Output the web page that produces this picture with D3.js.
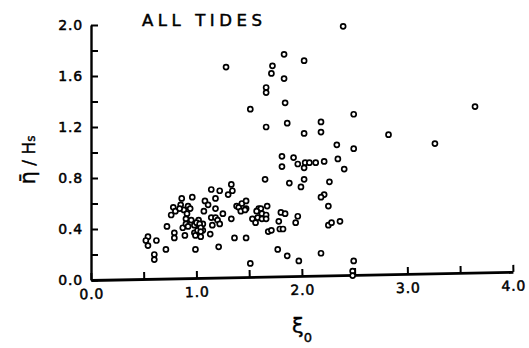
<!DOCTYPE html>
<html><head><meta charset="utf-8">
<script src="https://cdn.jsdelivr.net/npm/d3@7"></script>
<style>
body{margin:0;background:#fff}
svg{display:block}
text{font-family:"DejaVu Sans",sans-serif;fill:#000}
</style>
</head><body>
<svg id="c" width="529" height="348"></svg>
<script>
// surf-zone parameter ξ0 (x) and η̄/Hs (y)
const xi0 = [
  0.54,0.52,0.54,0.62,0.60,0.60,0.71,0.72,0.79,0.79,0.76,0.78,0.80,0.86,0.85,0.88,0.84,
  0.87,0.89,0.92,0.94,0.91,0.90,0.90,0.92,0.96,0.95,0.99,0.98,0.98,0.99,1.02,1.03,1.03,1.04,
  1.06,1.06,1.00,1.01,1.03,1.04,1.04,1.08,1.11,1.07,1.13,1.14,1.18,1.18,1.14,1.15,1.21,1.22,
  1.18,1.20,1.22,1.25,1.30,1.33,1.34,1.33,1.36,1.38,1.40,1.43,1.47,1.42,1.47,1.47,1.51,1.53,
  1.56,1.58,1.59,1.61,1.65,1.62,1.62,1.57,1.46,
  2.39,1.83,2.02,1.72,1.71,1.83,1.66,1.66,1.84,2.49,3.64,1.66,1.86,2.18,2.02,2.18,2.82,2.33,
  2.49,3.26,1.81,1.81,1.92,1.96,2.02,2.03,2.07,2.13,2.21,2.34,2.40,1.28,1.51,
  1.88,2.02,1.99,2.26,2.21,2.18,2.25,1.67,1.66,1.66,1.80,1.84,1.96,1.94,1.78,1.68,1.71,1.79,
  1.82,2.25,2.28,2.36,1.77,1.86,1.97,2.18,2.49,2.48,2.48
];
const etaHs = [
  0.34,0.31,0.27,0.31,0.20,0.16,0.24,0.42,0.37,0.33,0.51,0.57,0.54,0.64,0.59,0.55,0.56,
  0.41,0.35,0.58,0.56,0.52,0.48,0.44,0.42,0.65,0.47,0.24,0.43,0.37,0.35,0.47,0.41,0.37,0.34,
  0.44,0.39,0.45,0.39,0.44,0.41,0.38,0.62,0.59,0.54,0.36,0.71,0.64,0.56,0.49,0.43,0.26,0.70,
  0.49,0.47,0.44,0.52,0.67,0.75,0.70,0.48,0.33,0.58,0.57,0.60,0.62,0.54,0.56,0.33,0.13,0.48,
  0.45,0.49,0.56,0.56,0.79,0.52,0.48,0.54,0.55,
  1.99,1.77,1.72,1.68,1.62,1.58,1.51,1.47,1.39,1.30,1.36,1.20,1.23,1.24,1.15,1.16,1.14,1.06,
  1.03,1.07,0.97,0.89,0.96,0.91,0.88,0.92,0.92,0.92,0.93,0.95,0.87,1.67,1.34,
  0.76,0.79,0.73,0.77,0.67,0.65,0.58,0.58,0.51,0.48,0.53,0.52,0.50,0.45,0.46,0.38,0.39,0.40,
  0.40,0.43,0.45,0.46,0.24,0.19,0.15,0.21,0.15,0.07,0.035
];
const xTicks = [0,0.5,1,1.5,2,2.5,3,3.5,4];
const xTickLabels = ["0.0","","1.0","","2.0","","3.0","","4.0"];
const yTicks = [0,0.2,0.4,0.6,0.8,1.0,1.2,1.4,1.6,1.8,2.0];
const yTickLabels = ["0.0","","0.4","","0.8","","1.2","","1.6","","2.0"];
const titleText = "ALL TIDES";

const svg = d3.select("#c");
const x = d3.scaleLinear().domain([0,4]).range([91,513]);
const y = d3.scaleLinear().domain([0,2]).range([280,25]);

function styleAxis(g, w){
  g.select(".domain").attr("stroke","#000").attr("stroke-width",w);
  g.selectAll(".tick line").attr("stroke","#000").attr("stroke-width",2);
  g.selectAll(".tick text").attr("font-size",14).attr("font-family","DejaVu Sans")
    .attr("stroke","#000").attr("stroke-width",0.5)
    .attr("letter-spacing","0.8px").attr("fill","#000");
}

// y axis
const yg = svg.append("g").attr("transform",`translate(${x(0)},0)`)
  .call(d3.axisLeft(y).tickValues(yTicks).tickSize(-7).tickSizeOuter(0).tickPadding(8)
    .tickFormat((d,i)=>yTickLabels[i]));
styleAxis(yg, 2.4);

// x axis (slightly tilted as in the scanned original)
const xg = svg.append("g").attr("transform",`translate(0,${y(0)}) rotate(-1.1 ${x(0)} 0)`)
  .call(d3.axisBottom(x).tickValues(xTicks).tickSize(-7).tickSizeOuter(0).tickPadding(9)
    .tickFormat((d,i)=>xTickLabels[i]));
styleAxis(xg, 2.8);

// points
svg.append("g").selectAll("circle").data(xi0.map((v,i)=>[v,etaHs[i]])).join("circle")
  .attr("cx",d=>x(d[0])).attr("cy",d=>y(d[1])).attr("r",2.5)
  .attr("fill","#fff").attr("stroke","#000").attr("stroke-width",1.7);

// title
svg.append("text").attr("x",142).attr("y",26).attr("font-size",16.5)
  .attr("stroke","#000").attr("stroke-width",0.5)
  .attr("textLength",120).attr("lengthAdjust","spacing").text(titleText);

// y label
const yl = svg.append("text").attr("transform","translate(35,160) rotate(-90)")
  .attr("text-anchor","middle").attr("stroke","#000").attr("stroke-width",0.4);
yl.append("tspan").attr("font-size",21).text("\u03B7\u0304");
yl.append("tspan").attr("font-size",17).text(" / H");
yl.append("tspan").attr("font-size",12).text("s");

// x label
const xl = svg.append("text").attr("x",292).attr("y",333).attr("stroke","#000").attr("stroke-width",0.4);
xl.append("tspan").attr("font-size",21).text("\u03BE");
xl.append("tspan").attr("font-size",13).attr("dy",9).text("0");
</script>
</body></html>
